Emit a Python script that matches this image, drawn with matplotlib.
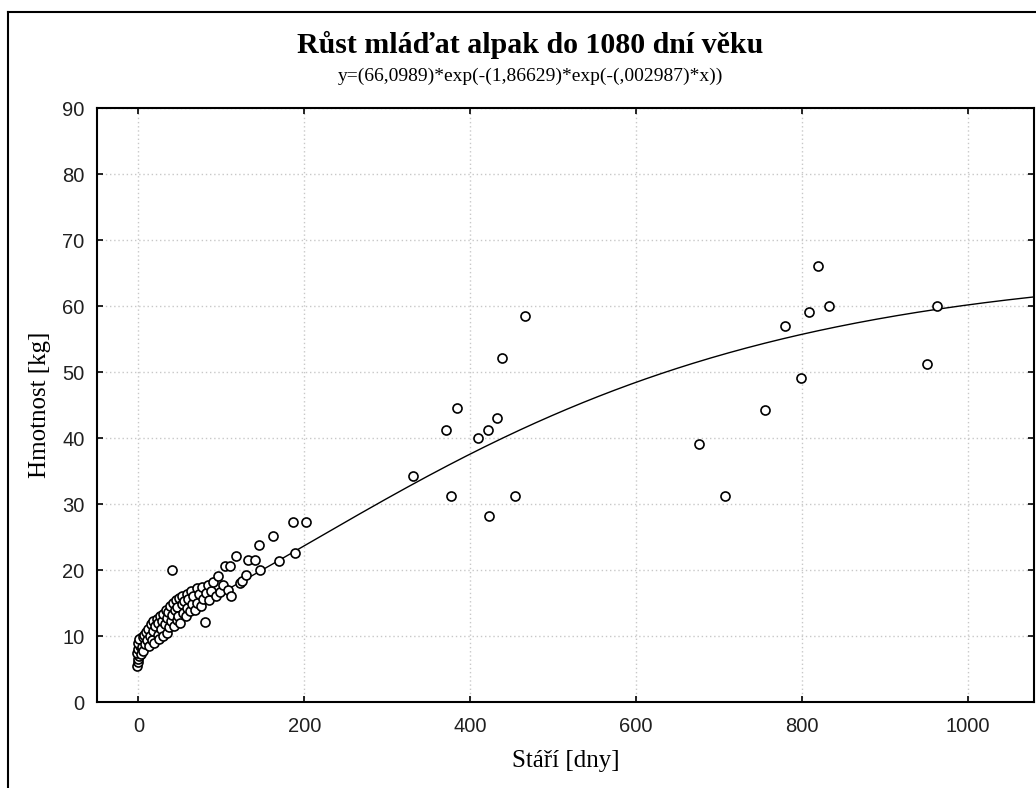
import numpy as np
import matplotlib.pyplot as plt
from matplotlib.lines import Line2D

# stari (dny) a hmotnost (kg)
age = [-2, 0, -1, 1, -2, 0, 2, -1, 1,
       3, 4, 5, 6, 7, 8, 9, 10,
       12, 13, 14, 15, 16, 17, 18, 19, 20,
       22, 23, 24, 25, 26, 27, 28, 29, 30,
       32, 33, 34, 35, 36, 37, 38, 39, 40,
       42, 43, 44, 45, 46, 47, 48, 49, 50,
       52, 53, 54, 55, 57, 58, 59, 60,
       62, 63, 65, 66, 68, 70, 71, 73, 75,
       77, 78, 80, 82, 84, 85, 88, 90,
       93, 96, 98, 102, 104, 108, 110, 112, 118, 122, 125, 130,
       132, 141, 145, 147, 162, 169, 186, 189, 202, 40,
       331, 371, 377, 384, 410, 422, 423, 432, 439, 454, 466,
       676, 707, 756, 780, 799, 809, 819, 833, 951, 963]
weight = [5.4, 6.0, 6.5, 7.0, 7.5, 8.0, 8.5, 9.0, 9.5,
          7.2, 8.3, 9.8, 7.8, 10.2, 8.8, 10.6, 9.4,
          11.0, 8.5, 10.0, 11.8, 9.4, 12.2, 10.8, 9.0, 11.5,
          12.6, 10.2, 11.9, 9.6, 13.0, 11.0, 12.3, 10.0, 13.4,
          11.8, 14.0, 12.8, 10.5, 13.6, 11.3, 14.5, 12.3, 13.2,
          15.0, 11.5, 13.9, 15.4, 12.4, 14.4, 13.0, 15.8, 12.0,
          14.8, 16.0, 13.5, 15.3, 13.0, 16.3, 14.3, 15.6,
          13.8, 16.8, 14.8, 16.1, 14.0, 17.2, 15.0, 16.3, 14.6,
          17.5, 15.6, 12.1, 16.5, 17.7, 15.4, 16.8, 18.2,
          16.0, 19.1, 16.6, 17.8, 20.6, 16.9, 20.6, 16.1, 22.1, 18.1, 18.4, 19.2,
          21.5, 21.5, 23.8, 20.0, 25.1, 21.4, 27.3, 22.6, 27.3, 20.0,
          34.2, 41.2, 31.2, 44.6, 40.0, 41.2, 28.2, 43.0, 52.1, 31.2, 58.5,
          39.1, 31.2, 44.2, 56.9, 49.1, 59.1, 66.1, 60.0, 51.2, 60.0]

# parametry modelu z podtitulku
a, b, c = 66.0989, 1.86629, 0.002987
xfit = np.linspace(0, 1080, 400)
yfit = a * np.exp(-b * np.exp(-c * xfit))

fig = plt.figure(figsize=(10.36, 7.88), dpi=100)
ax = fig.add_axes([97/1036, 86/788, 937/1036, 594/788])

ax.plot(xfit, yfit, color='black', lw=1.0, zorder=3)
ax.plot(age, weight, 'o', mfc='white', mec='black', ms=6.5, mew=1.2, ls='none', zorder=4)

ax.set_xlim(-50, 1080)
ax.set_ylim(0, 90)
ax.set_xticks([0, 200, 400, 600, 800, 1000])
ax.set_yticks(range(0, 91, 10))
ax.grid(True, color='#c8c8c8', linestyle=(0, (1, 2)), lw=1.0)
ax.set_axisbelow(True)
for s in ax.spines.values():
    s.set_linewidth(1.5)
ax.tick_params(direction='in', length=4, width=1.2, top=True, right=True,
               labelsize=14.5)
ax.tick_params(axis='x', pad=11)
ax.tick_params(axis='y', pad=9)
for lab in ax.get_xticklabels() + ax.get_yticklabels():
    lab.set_fontfamily('Liberation Sans')
    lab.set_color('#202020')

ax.set_xlabel('Stáří [dny]', family='Liberation Serif', fontsize=18, labelpad=10)
ax.set_ylabel('Hmotnost [kg]', family='Liberation Serif', fontsize=18, labelpad=8)

fig.text(530/1036, 1 - 45/788, 'Růst mláďat alpak do 1080 dní věku', ha='center', va='center',
         family='Liberation Serif', fontweight='bold', fontsize=21.5)
fig.text(530/1036, 1 - 76/788, 'y=(66,0989)*exp(-(1,86629)*exp(-(,002987)*x))', ha='center',
         va='center', family='Liberation Serif', fontsize=14)

# ramecek okolo grafu
fig.add_artist(Line2D([8/1036, 8/1036], [0, 1 - 12/788], color='black', lw=1.5))
fig.add_artist(Line2D([8/1036, 1], [1 - 12/788, 1 - 12/788], color='black', lw=1.5))

fig.savefig('out.png', dpi=100)
